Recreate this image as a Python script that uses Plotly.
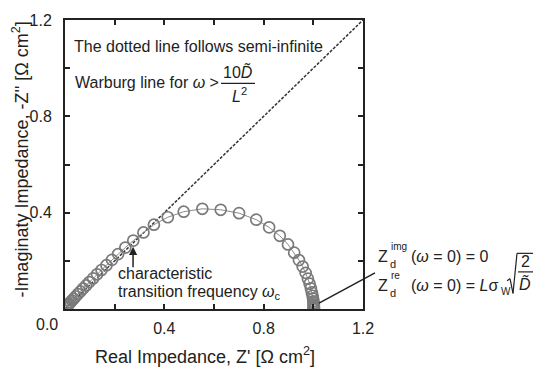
import plotly.graph_objects as go

# Nyquist data of the finite-length diffusion element, Z' and -Z'' in Ohm cm^2
z_re = [0.004, 0.008, 0.012, 0.017, 0.022, 0.028, 0.035, 0.043, 0.052, 0.062,
        0.073, 0.085, 0.098, 0.113, 0.129, 0.147, 0.167, 0.189, 0.214, 0.243,
        0.275, 0.316, 0.358, 0.414, 0.478, 0.553, 0.627, 0.701, 0.770, 0.822,
        0.865, 0.898, 0.923, 0.942, 0.957, 0.969, 0.978, 0.985, 0.990, 0.994,
        0.997, 0.999, 1.000, 1.001, 1.002, 1.002, 1.002, 1.002, 1.002, 1.002]
z_im = [0.006, 0.011, 0.016, 0.022, 0.028, 0.035, 0.043, 0.052, 0.062, 0.073,
        0.085, 0.098, 0.112, 0.127, 0.144, 0.162, 0.182, 0.204, 0.228, 0.255,
        0.284, 0.318, 0.350, 0.381, 0.404, 0.416, 0.412, 0.398, 0.371, 0.339,
        0.304, 0.268, 0.234, 0.203, 0.176, 0.150, 0.126, 0.105, 0.086, 0.069,
        0.055, 0.043, 0.032, 0.024, 0.017, 0.011, 0.007, 0.004, 0.002, 0.001]

# Semi-infinite Warburg line (45 degrees)
warburg_x = [0.0, 1.2]
warburg_y = [0.0, 1.2]

# Characteristic transition frequency marker
omega_c = (0.274, 0.258)

tick_vals = [0.0, 0.2, 0.4, 0.6, 0.8, 1.0, 1.2]
tick_text = ["", "", "0.4", "", "0.8", "", "1.2"]

FONT = "Arial, Liberation Sans, sans-serif"
INK = "#222222"

# plot area in pixels
L, T, W, H = 65, 13, 298, 296


def at(px, py):
    """Pixel position in the figure -> paper coordinates."""
    return (px - L) / W, (T + H - py) / H


fig = go.Figure()
fig.add_trace(go.Scatter(
    x=warburg_x, y=warburg_y, mode="lines",
    line=dict(color="#333333", width=1.5, dash="3px,1.5px"),
    hoverinfo="skip", showlegend=False))
fig.add_trace(go.Scatter(
    x=z_re, y=z_im, mode="lines+markers",
    line=dict(color="#8a8a8a", width=1),
    marker=dict(symbol="circle-open", size=11, color="#7a7a7a",
                line=dict(width=1.7, color="#7a7a7a")),
    showlegend=False))

annotations = []


def label(text, px, py, size=16, xanchor="left", yanchor="middle", **kw):
    x, y = at(px, py)
    annotations.append(dict(text=text, x=x, y=y, xref="paper", yref="paper",
                            xanchor=xanchor, yanchor=yanchor, showarrow=False,
                            font=dict(family=FONT, size=size, color=INK), **kw))


label("The dotted line follows semi-infinite", 72, 40)
label("Warburg line for <i>ω</i> >", 73, 77)
label("10<i>D\u0303</i>", 238, 66, xanchor="center")
label("<i>L</i><sup>2</sup>", 239, 90, xanchor="center")

label("characteristic", 116, 273)
label("transition frequency <i>ω</i><sub>c</sub>", 116, 292)

# Z_d at zero frequency
label("Z", 376, 255)
label("d", 388, 263, size=11)
label("img", 389, 245, size=10)
label("(<i>ω</i> = 0) = 0", 409, 255)
label("Z", 376, 285)
label("d", 388, 293, size=11)
label("re", 389, 275, size=10)
label("(<i>ω</i> = 0) = <i>L</i>σ", 409, 285)
label("W", 499, 291, size=10)
label("2", 525, 260, xanchor="center")
label("<i>D\u0303</i>", 525, 283, xanchor="center")

# corner tick label and axis titles
label("0.0", 47, 325, xanchor="center")
label("Real Impedance, Z' [Ω cm<sup>2</sup>]", 205, 357, size=18, xanchor="center")
label("-Imaginaty Impedance, -Z'' [Ω cm<sup>2</sup>]", 21, 156, size=18,
      xanchor="center", textangle=-90)

# arrow pointing at omega_c
annotations.append(dict(x=omega_c[0], y=omega_c[1], xref="x", yref="y",
                        ax=0, ay=22, text="", showarrow=True, arrowhead=2,
                        arrowsize=1.1, arrowwidth=1.5, arrowcolor=INK))

shapes = []


def seg(p0, p1, width=1.2):
    x0, y0 = at(*p0)
    x1, y1 = at(*p1)
    shapes.append(dict(type="line", xref="paper", yref="paper", x0=x0, y0=y0,
                       x1=x1, y1=y1, line=dict(color=INK, width=width)))


# fraction bars
seg((221, 78), (255, 78))
seg((518, 271), (533, 271))
# square-root sign
seg((507, 280), (510, 278))
seg((510, 278), (513, 293))
seg((513, 293), (517, 252))
seg((517, 252), (533, 252))
# leader line from the zero-frequency point
seg((319, 303), (375, 272), width=1.5)

axis_common = dict(range=[0, 1.2], tickvals=tick_vals, ticktext=tick_text,
                   ticks="inside", ticklen=5, tickwidth=1.5, tickcolor=INK,
                   showline=True, linewidth=2, linecolor=INK, mirror="allticks",
                   showgrid=False, zeroline=False,
                   tickfont=dict(family=FONT, size=16, color=INK))

fig.update_layout(
    width=533, height=368,
    margin=dict(l=L, r=533 - L - W, t=T, b=368 - T - H),
    paper_bgcolor="white", plot_bgcolor="white",
    xaxis=dict(**axis_common, ticklabelstandoff=4),
    yaxis=dict(**axis_common, ticklabelstandoff=8),
    annotations=annotations, shapes=shapes,
)

fig.write_html("out.html")
